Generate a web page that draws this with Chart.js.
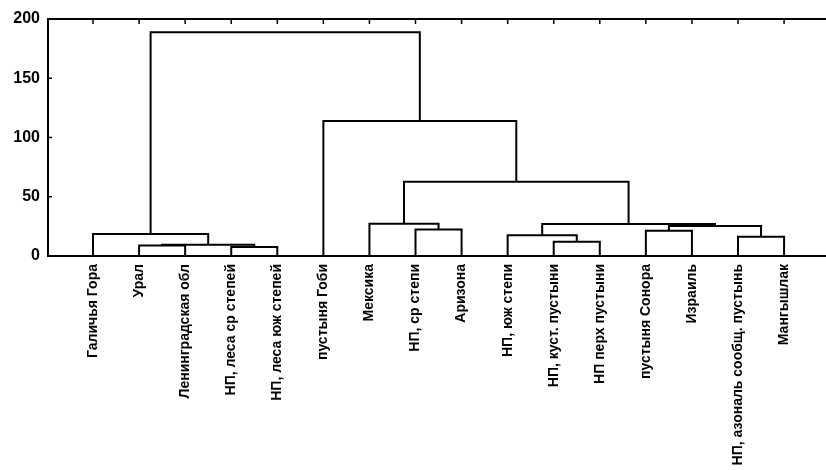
<!DOCTYPE html>
<html><head><meta charset="utf-8">
<script src="https://cdn.jsdelivr.net/npm/chart.js@4"></script>
<style>html,body{margin:0;padding:0;background:#fff}</style>
</head><body>
<canvas id="c" width="826" height="470"></canvas>
<script>
const leafLabels = ["Галичья Гора","Урал","Ленинградская обл","НП, леса ср степей","НП, леса юж степей","пустыня Гоби","Мексика","НП, ср степи","Аризона","НП, юж степи","НП, куст. пустыни","НП перх пустыни","пустыня Сонора","Израиль","НП, азональ сообщ. пустынь","Мангышлак"];
// merges: node index = 16 + merge index
const mergeLeft   = [1, 3, 16, 0, 7, 6, 10, 9, 12, 14, 24, 23, 21, 5, 19];
const mergeRight  = [2, 4, 17, 18, 8, 20, 11, 22, 13, 15, 25, 26, 27, 28, 29];
const mergeHeight = [8.8, 7.5, 9.5, 18.6, 22.3, 27.3, 12, 17.5, 21.3, 16.3, 25.3, 27.0, 62.7, 114, 188.8];
const yTicks = [0, 50, 100, 150, 200];

const nodeX = leafLabels.map((_, i) => i);
const nodeH = leafLabels.map(() => 0);
const datasets = [];
mergeLeft.forEach((l, k) => {
  const r = mergeRight[k], h = mergeHeight[k];
  datasets.push({
    data: [{x: nodeX[l], y: nodeH[l]}, {x: nodeX[l], y: h}, {x: nodeX[r], y: h}, {x: nodeX[r], y: nodeH[r]}],
    showLine: true, borderColor: '#000', borderWidth: 2, pointRadius: 0, clip: false,
    tension: 0
  });
  nodeX.push((nodeX[l] + nodeX[r]) / 2);
  nodeH.push(h);
});

const frame = {
  id: 'frame',
  afterDatasetsDraw(chart) {
    const {ctx, chartArea: a, scales: {x, y}} = chart;
    ctx.save();
    ctx.strokeStyle = '#000';
    ctx.lineWidth = 2;
    ctx.beginPath();
    ctx.moveTo(a.left - 1, a.top); ctx.lineTo(a.right, a.top);
    ctx.stroke();
    ctx.lineWidth = 1.5;
    ctx.beginPath();
    leafLabels.forEach((_, i) => { const px = x.getPixelForValue(i); ctx.moveTo(px, a.top); ctx.lineTo(px, a.top + 5); });
    yTicks.forEach(v => { const py = y.getPixelForValue(v); ctx.moveTo(a.left, py); ctx.lineTo(a.left + 4, py); });
    ctx.stroke();
    ctx.restore();
  }
};

new Chart(document.getElementById('c'), {
  type: 'scatter',
  data: { datasets },
  options: {
    responsive: false, animation: false, devicePixelRatio: 1,
    layout: { padding: { left: 0, right: 0, top: 19, bottom: 0 } },
    plugins: { legend: { display: false }, tooltip: { enabled: false } },
    scales: {
      x: {
        type: 'linear', min: -0.977, max: 15.91,
        afterBuildTicks: s => { s.ticks = leafLabels.map((_, i) => ({ value: i })); },
        afterFit: s => { s.height = 214; },
        grid: { display: false, drawTicks: false },
        border: { display: true, color: '#000', width: 2 },
        ticks: {
          autoSkip: false, maxRotation: 90, minRotation: 90, padding: 8, color: '#000',
          font: { family: '"Liberation Sans", Arial, sans-serif', size: 14, weight: 'bold' },
          callback: v => leafLabels[v] ?? ''
        }
      },
      y: {
        min: 0, max: 200,
        afterBuildTicks: s => { s.ticks = yTicks.map(v => ({ value: v })); },
        afterFit: s => { s.width = 48; },
        grid: { display: false, drawTicks: false },
        border: { display: true, color: '#000', width: 2 },
        ticks: {
          padding: 8, color: '#000',
          font: { family: '"Liberation Sans", Arial, sans-serif', size: 16, weight: 'bold' }
        }
      }
    }
  },
  plugins: [frame]
});
</script>
</body></html>
